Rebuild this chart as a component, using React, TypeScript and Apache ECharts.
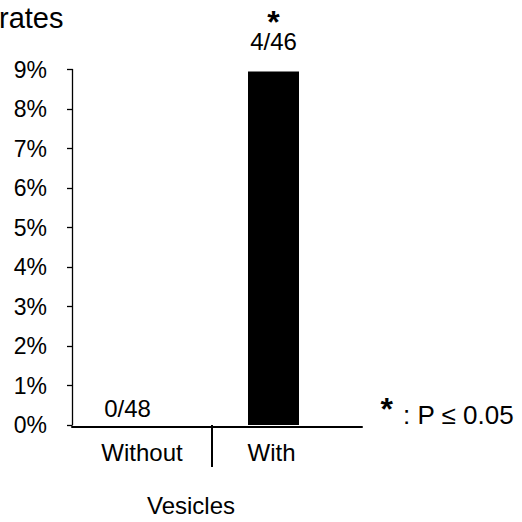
import React, { useEffect, useRef } from 'react';
import * as echarts from 'echarts';

const categories = ['Without', 'With'];
const rateValues = [0, 8.95];
const countLabels = ['0/48', '4/46'];
const significance = ['', '*'];
const yMin = 0;
const yMax = 9;
const yInterval = 1;
const axisName = 'Vesicles';
const titleText = 'rates';
const legendStar = '*';
const legendText = ': P ≤ 0.05';
const dividerSlots = ['l', 'm', 'r'];

const FONT = '"Liberation Sans", Arial, Helvetica, sans-serif';

export default function App() {
  const ref = useRef<HTMLDivElement>(null);

  useEffect(() => {
    if (!ref.current) return;
    const chart = echarts.init(ref.current, undefined, { renderer: 'svg' });
    const option: any = {
      animation: false,
      backgroundColor: '#ffffff',
      textStyle: { fontFamily: FONT, color: '#000' },
      grid: [
        { left: 72, right: 170, top: 69.5, bottom: 97 },
        { left: 72, right: 160, top: 69.5, bottom: 95.5 },
      ],
      xAxis: [
        {
          type: 'category',
          gridIndex: 0,
          data: categories,
          axisLine: { show: false },
          axisTick: { show: false },
          axisLabel: {
            margin: 15,
            formatter: (v: string, i: number) => (i === 1 ? `{b|${v}}` : `{a|${v}}`),
            rich: {
              a: { fontSize: 24, color: '#000', fontFamily: FONT },
              b: { fontSize: 24, color: '#000', fontFamily: FONT, padding: [0, 21, 0, 0] },
            },
          },
          name: axisName,
          nameLocation: 'middle',
          nameGap: 68,
          nameTextStyle: { fontSize: 24, color: '#000', fontFamily: FONT, padding: [0, 42, 0, 0] },
        },
        {
          type: 'category',
          gridIndex: 0,
          data: dividerSlots,
          boundaryGap: false,
          position: 'bottom',
          axisLine: { show: false },
          axisLabel: { show: false },
          axisTick: {
            show: true,
            alignWithLabel: true,
            interval: (i: number) => i === 1,
            length: 42,
            lineStyle: { color: '#000', width: 2 },
          },
        },
        {
          type: 'category',
          gridIndex: 1,
          data: categories,
          axisLine: { show: true, lineStyle: { color: '#000', width: 2 } },
          axisTick: { show: false },
          axisLabel: { show: false },
        },
      ],
      yAxis: [
        {
          type: 'value',
          gridIndex: 0,
          min: yMin,
          max: yMax,
          interval: yInterval,
          axisLine: { show: true, lineStyle: { color: '#000', width: 1.3 } },
          axisTick: { show: true, length: 5, lineStyle: { color: '#000', width: 1.3 } },
          splitLine: { show: false },
          axisLabel: { formatter: '{value}%', fontSize: 23, color: '#000', margin: 25, fontFamily: FONT },
        },
        { type: 'value', gridIndex: 1, show: false },
      ],
      series: [
        {
          type: 'bar',
          xAxisIndex: 0,
          yAxisIndex: 0,
          barWidth: 51,
          barGap: '0%',
          itemStyle: { color: '#000' },
          data: rateValues.map((v, i) => ({
            value: v,
            label: {
              show: true,
              position: 'top',
              distance: significance[i] ? 18 : 5,
              offset: significance[i] ? [0, 0] : [-6, 0],
              formatter: () =>
                significance[i] ? `{s|${significance[i]}}\n{v|${countLabels[i]}}` : `{v|${countLabels[i]}}`,
              rich: {
                s: { fontSize: 32, fontWeight: 'bold', color: '#000', fontFamily: FONT, lineHeight: 14 },
                v: { fontSize: 24, color: '#000', fontFamily: FONT, lineHeight: 24 },
              },
            },
          })),
        },
        {
          type: 'bar',
          xAxisIndex: 0,
          yAxisIndex: 0,
          barWidth: 17,
          barGap: '0%',
          silent: true,
          itemStyle: { color: 'rgba(0,0,0,0)' },
          data: categories.map(() => '-'),
        },
      ],
      graphic: [
        {
          type: 'text',
          x: -1,
          y: 18,
          style: {
            text: titleText,
            fontSize: 29,
            fontFamily: FONT,
            fill: '#000',
            align: 'left',
            verticalAlign: 'middle',
          },
        },
        {
          type: 'text',
          x: 380.5,
          y: 409,
          style: {
            text: legendStar,
            fontSize: 32,
            fontWeight: 'bold',
            fontFamily: FONT,
            fill: '#000',
            align: 'left',
            verticalAlign: 'middle',
          },
        },
        {
          type: 'text',
          x: 403,
          y: 415,
          style: {
            text: legendText,
            fontSize: 26,
            fontFamily: FONT,
            fill: '#000',
            align: 'left',
            verticalAlign: 'middle',
          },
        },
      ],
    };
    chart.setOption(option);
    return () => chart.dispose();
  }, []);

  return <div ref={ref} style={{ position: 'absolute', left: 0, top: 0, width: 522, height: 522 }} />;
}
